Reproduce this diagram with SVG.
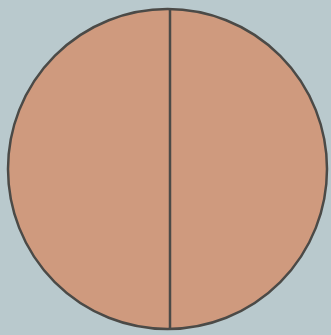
<svg xmlns="http://www.w3.org/2000/svg" width="331" height="335" viewBox="0 0 331 335">
<style>
.disc{fill:#cf9a7e;stroke:#4b4a47;stroke-width:2.5}
.div{stroke:#4b4a47;stroke-width:2.5}
</style>
<rect width="331" height="335" fill="#b9c9cd"/>
<g id="circle">
<ellipse class="disc" cx="167.5" cy="169" rx="159.5" ry="160"/>
</g>
<g id="connectors">
<line class="div" x1="170" y1="9" x2="170" y2="329"/>
</g>
</svg>
